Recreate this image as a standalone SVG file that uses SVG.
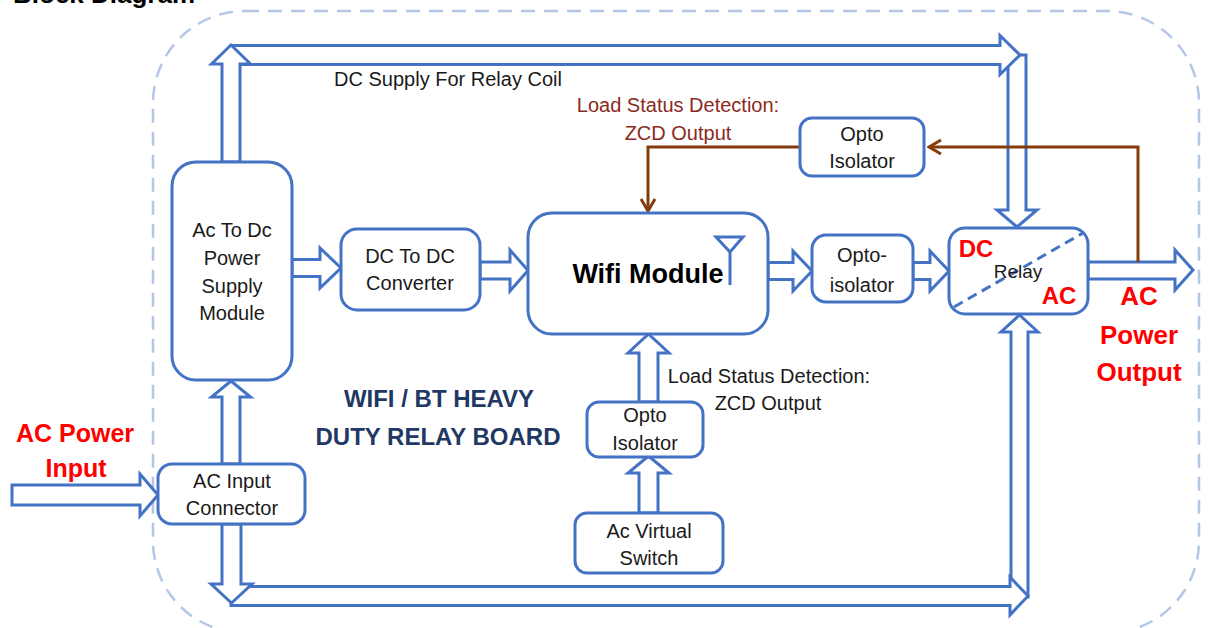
<svg xmlns="http://www.w3.org/2000/svg" width="1209" height="628" viewBox="0 0 1209 628">
<style>
.bx{fill:#fff;stroke:#4472c4;stroke-width:3}
.ar{fill:#fff;stroke:#4472c4;stroke-width:3;stroke-linejoin:miter}
.t{font-family:"Liberation Sans",Arial,sans-serif;font-size:20px;fill:#1a1a1a;text-anchor:middle}
.br{fill:#8b2a22}
.red{font-family:"Liberation Sans",Arial,sans-serif;font-weight:bold;fill:#ff0000;text-anchor:middle}
.fb{fill:none;stroke:#843c0c;stroke-width:3}
</style>
<defs>
<marker id="chev" markerUnits="userSpaceOnUse" viewBox="0 0 16 18" refX="14" refY="9" markerWidth="16" markerHeight="18" orient="auto">
<path d="M2,2 L14,9 L2,16" fill="none" stroke="#843c0c" stroke-width="3"/>
</marker>
</defs>
<rect width="1209" height="628" fill="#fff"/>
<text x="13" y="3" style="font-family:'Liberation Sans',Arial,sans-serif;font-weight:bold;font-size:26px" fill="#000">Block Diagram</text>
<rect x="153" y="11" width="1046" height="622" rx="92" fill="none" stroke="#b4c7e7" stroke-width="2.5" stroke-dasharray="14 9"/>

<g id="connectors">
<!-- top bus to relay -->
<polygon class="ar" points="1008,55 1026,55 1026,210 1037,210 1017,227 997,210 1008,210"/>
<polygon class="ar" points="231,45.5 1000,45.5 1000,35.5 1020,55 1000,74.5 1000,64.5 231,64.5"/>
<polygon class="ar" points="222,162 222,64 211.5,64 231,45 250.5,64 240,64 240,162"/>
<!-- bottom bus to relay -->
<polygon class="ar" points="1011,597 1011,332 1001,332 1019.5,315 1038,332 1028,332 1028,597"/>
<polygon class="ar" points="231,586.5 1010,586.5 1010,577 1028,596 1010,615 1010,605.5 231,605.5"/>
<polygon class="ar" points="222,524 241,524 241,584 252,584 231.5,603 211,584 222,584"/>
<!-- horizontal arrows -->
<polygon class="ar" points="12,485 140,485 140,474 158,495 140,516 140,505 12,505"/>
<polygon class="ar" points="292,259.5 320,259.5 320,248 341,268 320,288 320,276.5 292,276.5"/>
<polygon class="ar" points="480,262 510,262 510,250 528,270.5 510,291 510,279 480,279"/>
<polygon class="ar" points="768,262.5 793,262.5 793,251 812,271 793,291 793,279.5 768,279.5"/>
<polygon class="ar" points="913,262.5 930,262.5 930,251 949,271 930,291 930,279.5 913,279.5"/>
<polygon class="ar" points="1088,262 1175,262 1175,250 1193,270 1175,290 1175,279 1088,279"/>
<!-- vertical up arrows -->
<polygon class="ar" points="222,464 222,397 211.5,397 231,381 250.5,397 240,397 240,464"/>
<polygon class="ar" points="639,402 639,353 628,353 648.5,334 669,353 658,353 658,402"/>
<polygon class="ar" points="639,513 639,473 628,473 648.5,456 669,473 658,473 658,513"/>
<!-- feedback lines -->
<polyline class="fb" points="1138,262 1138,147 929,147" marker-end="url(#chev)"/>
<polyline class="fb" points="800,147 648,147 648,211" marker-end="url(#chev)"/>
</g>

<g id="acdc">
<rect class="bx" x="172" y="162" width="120" height="218" rx="24"/>
<text class="t" x="232" y="237">Ac To Dc</text>
<text class="t" x="232" y="265">Power</text>
<text class="t" x="232" y="293">Supply</text>
<text class="t" x="232" y="320">Module</text>
</g>
<g id="dcdc">
<rect class="bx" x="341" y="229" width="139" height="81" rx="16"/>
<text class="t" x="410" y="263">DC To DC</text>
<text class="t" x="410" y="290">Converter</text>
</g>
<g id="wifi">
<rect class="bx" x="528" y="213" width="240" height="121" rx="24"/>
<text x="648" y="283" style="font-family:'Liberation Sans',Arial,sans-serif;font-weight:bold;font-size:27px;text-anchor:middle" fill="#000">Wifi Module</text>
<path d="M716,237 L743,237 L730,252 Z M730,252 L730,285" fill="none" stroke="#4472c4" stroke-width="3"/>
</g>
<g id="opto_mid">
<rect class="bx" x="812" y="235" width="101" height="67" rx="14"/>
<text class="t" x="862" y="262">Opto-</text>
<text class="t" x="862" y="292">isolator</text>
</g>
<g id="relay">
<rect class="bx" x="949" y="228" width="139" height="86" rx="16"/>
<line x1="954" y1="307" x2="1083" y2="233" stroke="#4472c4" stroke-width="3" stroke-dasharray="10 6"/>
<text class="red" x="976" y="257" style="font-size:24px">DC</text>
<text class="t" x="1018" y="278" style="font-size:19px">Relay</text>
<text class="red" x="1059" y="304" style="font-size:24px">AC</text>
</g>
<g id="opto_top">
<rect class="bx" x="800" y="118" width="124" height="58" rx="12"/>
<text class="t" x="862" y="141">Opto</text>
<text class="t" x="862" y="168">Isolator</text>
</g>
<g id="opto_bot">
<rect class="bx" x="587" y="402" width="116" height="55" rx="12"/>
<text class="t" x="645" y="422">Opto</text>
<text class="t" x="645" y="450">Isolator</text>
</g>
<g id="acvs">
<rect class="bx" x="575" y="513" width="148" height="60" rx="12"/>
<text class="t" x="649" y="538">Ac Virtual</text>
<text class="t" x="649" y="565">Switch</text>
</g>
<g id="acin">
<rect class="bx" x="158" y="464" width="147" height="60" rx="14"/>
<text class="t" x="232" y="488">AC Input</text>
<text class="t" x="232" y="515">Connector</text>
</g>

<g id="labels">
<text class="t" x="448" y="86">DC Supply For Relay Coil</text>
<text class="t br" x="678" y="112">Load Status Detection:</text>
<text class="t br" x="678" y="140">ZCD Output</text>
<text class="t" x="769" y="383">Load Status Detection:</text>
<text class="t" x="768" y="410">ZCD Output</text>
<text x="439" y="407" style="font-family:'Liberation Sans',Arial,sans-serif;font-weight:bold;font-size:24px;text-anchor:middle" fill="#1f3864">WIFI / BT HEAVY</text>
<text x="438" y="445" style="font-family:'Liberation Sans',Arial,sans-serif;font-weight:bold;font-size:24px;text-anchor:middle" fill="#1f3864">DUTY RELAY BOARD</text>
<text class="red" x="75" y="442" style="font-size:25px">AC Power</text>
<text class="red" x="76" y="477" style="font-size:25px">Input</text>
<text class="red" x="1139" y="305" style="font-size:26px">AC</text>
<text class="red" x="1139" y="344" style="font-size:26px">Power</text>
<text class="red" x="1139" y="381" style="font-size:26px">Output</text>
</g>
</svg>
